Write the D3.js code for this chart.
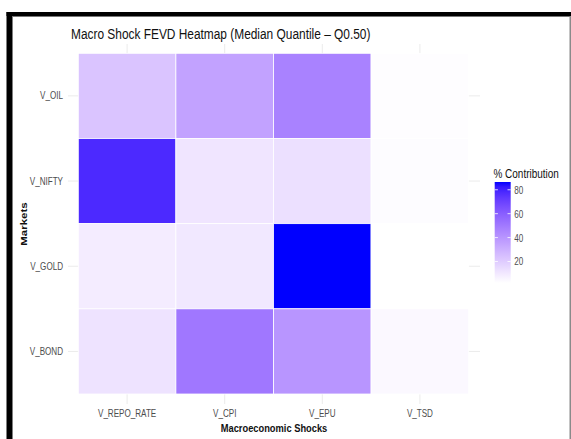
<!DOCTYPE html>
<html>
<head>
<meta charset="utf-8">
<script src="https://cdn.jsdelivr.net/npm/d3@7"></script>
<style>
  html, body { margin: 0; padding: 0; background: #fff; }
  svg { display: block; }
  text { font-family: "Liberation Sans", Arial, sans-serif; }
</style>
</head>
<body>
<script>
// Shocks (columns) and markets (rows, top to bottom)
const shocks = ["V_REPO_RATE", "V_CPI", "V_EPU", "V_TSD"];
const markets = ["V_OIL", "V_NIFTY", "V_GOLD", "V_BOND"];

// % contribution of each shock, one array per market (same order as shocks)
const oilShare   = [23.0, 35.0, 47.0, 2.8];
const niftyShare = [78.0, 11.0, 13.0, 3.2];
const goldShare  = [8.5, 10.0, 86.5, 2.0];
const bondShare  = [12.0, 51.0, 40.0, 4.5];

const legendTicks = [20, 40, 60, 80];

const shares = [oilShare, niftyShare, goldShare, bondShare];
const cells = [];
markets.forEach((m, i) => shocks.forEach((s, j) => cells.push({ market: m, shock: s, value: shares[i][j] })));

const W = 571, H = 439;
const SQ = 0.81; // horizontal squeeze applied to all text

const svg = d3.select("body").append("svg").attr("width", W).attr("height", H);

// outer frame
svg.append("rect").attr("x", 6.5).attr("y", 12).attr("width", 6).attr("height", H - 12).attr("fill", "#000");
svg.append("rect").attr("x", 6.5).attr("y", 12).attr("width", W - 6.5).attr("height", 4).attr("fill", "#000");
svg.append("rect").attr("x", 12.5).attr("y", 16).attr("width", W - 12.5).attr("height", 1).attr("fill", "#777");
svg.append("rect").attr("x", 569.5).attr("y", 16).attr("width", 1.5).attr("height", H - 16).attr("fill", "#8a8a8a");

// panel & scales
const panel = { x0: 68, x1: 480, y0: 44, y1: 404 };
const x = d3.scaleBand().domain(shocks).range([78.3, 468.7]);
const y = d3.scaleBand().domain(markets).range([53.3, 394]);

const vmin = d3.min(cells, d => d.value), vmax = d3.max(cells, d => d.value);
const color = d3.scaleLinear().domain([vmin, vmax]).range(["white", "blue"]).interpolate(d3.interpolateLab);

// grid lines
const grid = svg.append("g").attr("stroke", "#ebebeb").attr("stroke-width", 1);
grid.selectAll(".gx").data(shocks).join("line")
  .attr("x1", d => x(d) + x.bandwidth() / 2).attr("x2", d => x(d) + x.bandwidth() / 2)
  .attr("y1", panel.y0).attr("y2", panel.y1);
grid.selectAll(".gy").data(markets).join("line")
  .attr("y1", d => y(d) + y.bandwidth() / 2).attr("y2", d => y(d) + y.bandwidth() / 2)
  .attr("x1", panel.x0).attr("x2", panel.x1);

// tiles
svg.append("g").selectAll("rect").data(cells).join("rect")
  .attr("x", d => x(d.shock)).attr("y", d => y(d.market))
  .attr("width", x.bandwidth()).attr("height", y.bandwidth())
  .attr("fill", d => color(d.value))
  .attr("stroke", "#fff").attr("stroke-width", 0.8);

// x axis
const xAxis = svg.append("g").attr("transform", `translate(0,${panel.y1})`)
  .call(d3.axisBottom(x).tickSize(0).tickPadding(0));
xAxis.select(".domain").remove();
xAxis.selectAll("text")
  .attr("y", 13).attr("dy", null)
  .attr("transform", `scale(${SQ},1)`)
  .style("font-size", "10px").attr("fill", "#4d4d4d");

// y axis
const yAxis = svg.append("g").attr("transform", `translate(${panel.x0},0)`)
  .call(d3.axisLeft(y).tickSize(0).tickPadding(0));
yAxis.select(".domain").remove();
yAxis.selectAll("text")
  .attr("x", -5 / SQ).attr("dy", "0.35em")
  .attr("transform", `scale(${SQ},1)`)
  .style("font-size", "10px").attr("fill", "#4d4d4d");

// titles
svg.append("text").attr("transform", `translate(71,39) scale(${SQ},1)`)
  .style("font-size", "14.7px").attr("fill", "#111")
  .text("Macro Shock FEVD Heatmap (Median Quantile \u2013 Q0.50)");

svg.append("text").attr("transform", `translate(${(panel.x0 + panel.x1) / 2},432) scale(${SQ},1)`)
  .attr("text-anchor", "middle").style("font-size", "11.5px").style("font-weight", "bold").attr("fill", "#111")
  .text("Macroeconomic Shocks");

svg.append("text").attr("transform", `translate(26.5,${(panel.y0 + panel.y1) / 2}) scale(${SQ},1) rotate(-90)`)
  .attr("text-anchor", "middle").style("font-size", "11.5px").style("font-weight", "bold").attr("fill", "#111")
  .text("Markets");

// legend
const lg = { x: 494.7, w: 16, top: 182, bottom: 283 };
const ls = d3.scaleLinear().domain([vmin, vmax]).range([lg.bottom, lg.top]);

const defs = svg.append("defs");
const grad = defs.append("linearGradient").attr("id", "fillGrad")
  .attr("x1", 0).attr("y1", 1).attr("x2", 0).attr("y2", 0);
d3.range(0, 1.0001, 0.05).forEach(t => {
  grad.append("stop").attr("offset", t).attr("stop-color", color(vmin + t * (vmax - vmin)));
});

svg.append("text").attr("transform", `translate(493.5,178) scale(${SQ},1)`)
  .style("font-size", "12.3px").attr("fill", "#111").text("% Contribution");

svg.append("rect").attr("x", lg.x).attr("y", lg.top).attr("width", lg.w).attr("height", lg.bottom - lg.top)
  .attr("fill", "url(#fillGrad)");

const ticksG = svg.append("g").attr("stroke", "#fff").attr("stroke-opacity", 0.8).attr("stroke-width", 1);
legendTicks.forEach(v => {
  ticksG.append("line").attr("x1", lg.x).attr("x2", lg.x + 3.2).attr("y1", ls(v)).attr("y2", ls(v));
  ticksG.append("line").attr("x1", lg.x + lg.w - 3.2).attr("x2", lg.x + lg.w).attr("y1", ls(v)).attr("y2", ls(v));
});

const lAxis = svg.append("g").attr("transform", `translate(${lg.x + lg.w},0)`)
  .call(d3.axisRight(ls).tickValues(legendTicks).tickSize(0).tickPadding(0));
lAxis.select(".domain").remove();
lAxis.selectAll("text")
  .attr("x", 3.5 / SQ).attr("dy", "0.35em")
  .attr("transform", `scale(${SQ},1)`)
  .style("font-size", "10px").attr("fill", "#4d4d4d");
</script>
</body>
</html>
